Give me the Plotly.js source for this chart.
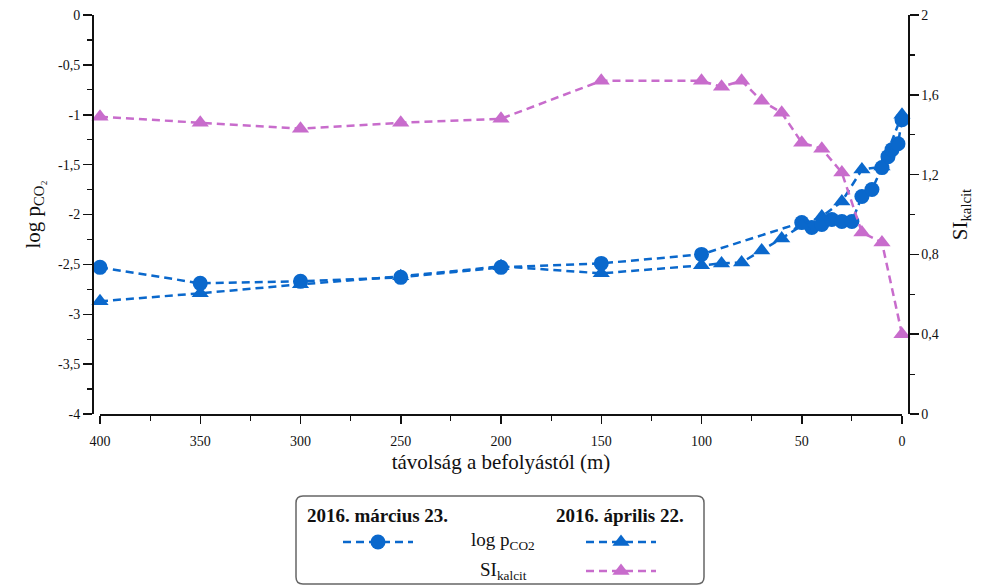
<!DOCTYPE html>
<html>
<head>
<meta charset="utf-8">
<script src="https://cdn.plot.ly/plotly-3.0.1.min.js"></script>
<style>html,body{margin:0;padding:0;background:#fff;}#chart{width:981px;height:587px;}</style>
</head>
<body>
<div id="chart"></div>
<script>
// distance from inflow (m)
const xMarch = [400, 350, 300, 250, 200, 150, 100, 50, 45, 40, 35, 30, 25, 20, 15, 10, 7, 5, 2, 0];
const logMarch = [-2.53, -2.69, -2.67, -2.63, -2.53, -2.49, -2.40, -2.08, -2.13, -2.10, -2.05, -2.07, -2.07, -1.82, -1.75, -1.53, -1.42, -1.35, -1.29, -1.05];
const xApril = [400, 350, 300, 250, 200, 150, 100, 90, 80, 70, 60, 50, 40, 30, 20, 10, 0];
const logApril = [-2.87, -2.79, -2.70, -2.62, -2.52, -2.59, -2.51, -2.49, -2.48, -2.36, -2.24, -2.11, -2.02, -1.87, -1.55, -1.52, -1.00];
const siApril = [1.49, 1.46, 1.43, 1.46, 1.48, 1.67, 1.67, 1.64, 1.67, 1.57, 1.51, 1.36, 1.33, 1.21, 0.91, 0.86, 0.40];

const xTickVals = [400, 350, 300, 250, 200, 150, 100, 50, 0];
const xTickText = ['400', '350', '300', '250', '200', '150', '100', '50', '0'];
const yTickVals = [0, -0.5, -1, -1.5, -2, -2.5, -3, -3.5, -4];
const yTickText = ['0', '-0,5', '-1', '-1,5', '-2', '-2,5', '-3', '-3,5', '-4'];
const y2TickVals = [0, 0.4, 0.8, 1.2, 1.6, 2];
const y2TickText = ['0', '0,4', '0,8', '1,2', '1,6', '2'];

const headerMarch = '2016. március 23.';
const headerApril = '2016. április 22.';
const rowLog = 'log p<sub>CO2</sub>';
const rowSI = 'SI<sub>kalcit</sub>';

const BLUE = '#0a68cc';
const PINK = '#c86ccc';
const FONT = 'Liberation Serif';

// layout geometry (px)
const W = 981, H = 587;
const mL = 92, mR = 73, mT = 15, mB = 173;
const pw = W - mL - mR, ph = H - mT - mB;
const px = v => (v - mL) / pw;
const py = v => (H - mB - v) / ph;

const dashPat = '8px,5px';

const traces = [
  {x: xMarch, y: logMarch, xaxis: 'x', yaxis: 'y', mode: 'lines+markers', name: ' ',
   line: {color: BLUE, width: 2.5, dash: dashPat}, marker: {symbol: 'circle', size: 15, color: BLUE},
   cliponaxis: false, legend: 'legend'},
  {x: xApril, y: logApril, xaxis: 'x', yaxis: 'y', mode: 'lines+markers', name: ' ',
   line: {color: BLUE, width: 2.5, dash: dashPat}, marker: {symbol: 'triangle-up', size: 15, color: BLUE},
   cliponaxis: false, legend: 'legend2'},
  {x: xApril, y: siApril, xaxis: 'x', yaxis: 'y2', mode: 'lines+markers', name: ' ',
   line: {color: PINK, width: 2.5, dash: dashPat}, marker: {symbol: 'triangle-up', size: 15, color: PINK},
   cliponaxis: false, legend: 'legend3'}
];

const legBase = {bgcolor: 'rgba(0,0,0,0)', borderwidth: 0, itemwidth: 70, font: {family: FONT, size: 12},
  xanchor: 'center', yanchor: 'middle', itemclick: false, itemdoubleclick: false};

// rounded legend box (paper coords)
const bx0 = 296, bx1 = 704, by0 = 496, by1 = 584, r = 7;
const rx = r / pw, ry = r / ph;
const X0 = px(bx0), X1 = px(bx1), Y0 = py(by0), Y1 = py(by1);
const boxPath = `M${X0 + rx},${Y0} L${X1 - rx},${Y0} Q${X1},${Y0} ${X1},${Y0 - ry} L${X1},${Y1 + ry} Q${X1},${Y1} ${X1 - rx},${Y1} L${X0 + rx},${Y1} Q${X0},${Y1} ${X0},${Y1 + ry} L${X0},${Y0 - ry} Q${X0},${Y0} ${X0 + rx},${Y0} Z`;

const layout = {
  width: W, height: H,
  margin: {l: mL, r: mR, t: mT, b: mB, autoexpand: false},
  paper_bgcolor: '#fff', plot_bgcolor: '#fff',
  separators: ', ',
  font: {family: FONT, color: '#111', size: 14},
  showlegend: true,
  xaxis: {
    domain: [px(100), px(902)], range: [400, 0], anchor: 'y',
    showline: true, linecolor: '#111', linewidth: 1.5, mirror: false,
    showgrid: false, zeroline: false,
    ticks: 'outside', ticklen: 8, tickwidth: 1.5, tickcolor: '#111',
    tickvals: xTickVals, ticktext: xTickText, ticklabelstandoff: 6,
    minor: {dtick: 25, tick0: 0, ticks: 'outside', ticklen: 5, tickwidth: 1.2, tickcolor: '#111', showgrid: false},
    tickfont: {family: FONT, size: 14, color: '#111'},
    title: {text: 'távolság a befolyástól (m)', font: {family: FONT, size: 21, color: '#111'}, standoff: 6}
  },
  yaxis: {
    domain: [0, 1], range: [-4, 0], anchor: 'free', position: 0,
    showline: true, linecolor: '#111', linewidth: 1.5,
    showgrid: false, zeroline: false,
    ticks: 'outside', ticklen: 9, tickwidth: 1.5, tickcolor: '#111',
    tickvals: yTickVals, ticktext: yTickText,
    minor: {dtick: 0.25, tick0: 0, ticks: 'outside', ticklen: 5, tickwidth: 1.2, tickcolor: '#111', showgrid: false},
    tickfont: {family: FONT, size: 14, color: '#111'},
    title: {text: 'log p<sub>CO₂</sub>', font: {family: FONT, size: 21, color: '#111'}, standoff: 10}
  },
  yaxis2: {
    domain: [0, 1], range: [0, 2], anchor: 'free', position: 1, overlaying: 'y', side: 'right',
    showline: true, linecolor: '#111', linewidth: 1.5,
    showgrid: false, zeroline: false,
    ticks: 'outside', ticklen: 9, tickwidth: 1.5, tickcolor: '#111',
    tickvals: y2TickVals, ticktext: y2TickText,
    minor: {dtick: 0.2, tick0: 0, ticks: 'outside', ticklen: 5, tickwidth: 1.2, tickcolor: '#111', showgrid: false},
    tickfont: {family: FONT, size: 14, color: '#111'},
    title: {text: 'SI<sub>kalcit</sub>', font: {family: FONT, size: 21, color: '#111'}, standoff: 14}
  },
  legend: Object.assign({}, legBase, {x: px(382), y: py(542)}),
  legend2: Object.assign({}, legBase, {x: px(625), y: py(542)}),
  legend3: Object.assign({}, legBase, {x: px(625), y: py(571)}),
  shapes: [
    {type: 'path', xref: 'paper', yref: 'paper', path: boxPath, line: {color: '#666', width: 1.5}, fillcolor: 'rgba(0,0,0,0)'}
  ],
  annotations: [
    {xref: 'paper', yref: 'paper', x: px(377), y: py(515), text: '<b>' + headerMarch + '</b>', showarrow: false,
     font: {family: FONT, size: 19, color: '#111'}, xanchor: 'center', yanchor: 'middle'},
    {xref: 'paper', yref: 'paper', x: px(620), y: py(515), text: '<b>' + headerApril + '</b>', showarrow: false,
     font: {family: FONT, size: 19, color: '#111'}, xanchor: 'center', yanchor: 'middle'},
    {xref: 'paper', yref: 'paper', x: px(503), y: py(541), text: rowLog, showarrow: false,
     font: {family: FONT, size: 19, color: '#111'}, xanchor: 'center', yanchor: 'middle'},
    {xref: 'paper', yref: 'paper', x: px(503), y: py(571), text: rowSI, showarrow: false,
     font: {family: FONT, size: 19, color: '#111'}, xanchor: 'center', yanchor: 'middle'}
  ]
};

Plotly.newPlot('chart', traces, layout, {displayModeBar: false, staticPlot: true});
</script>
</body>
</html>
